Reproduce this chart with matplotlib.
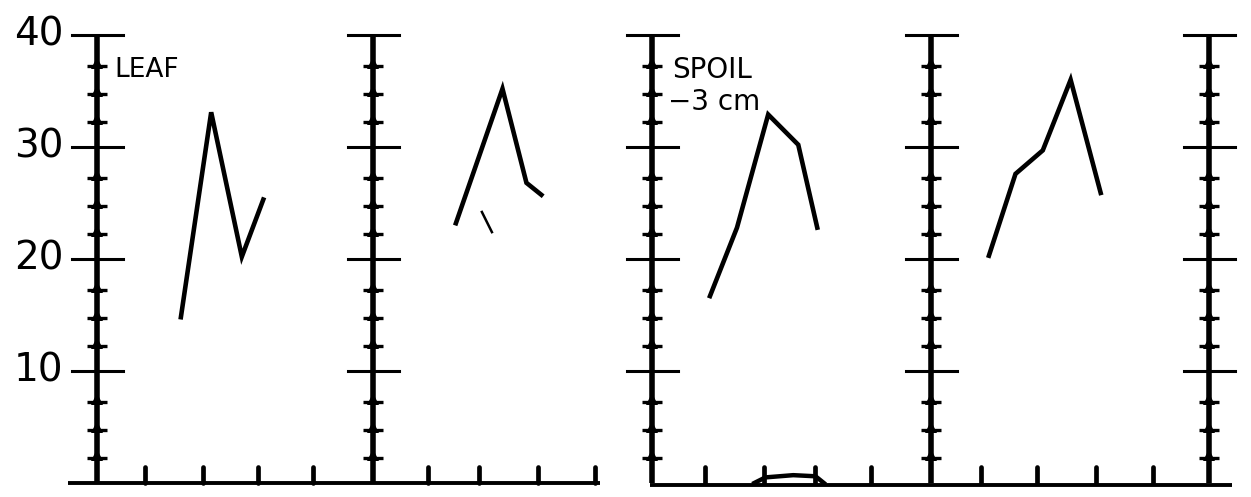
import matplotlib
matplotlib.use('Agg')
import numpy as np
import matplotlib.pyplot as plt

# values (x in tick units, y in axis units)
leaf_a_x = [1.5, 2.05, 2.6, 3.0]
leaf_a_y = [14.6, 33.1, 20.2, 25.5]
leaf_b_x = [6.43, 7.28, 7.71, 8.01]
leaf_b_y = [23.0, 35.2, 26.8, 25.6]
spoil_a_x = [10.99, 11.49, 12.05, 12.59, 12.94]
spoil_a_y = [16.5, 22.8, 32.9, 30.2, 22.6]
spoil_b_x = [16.0, 16.49, 16.98, 17.48, 18.03]
spoil_b_y = [20.1, 27.6, 29.7, 36.0, 25.7]
hump_x = [11.8, 12.0, 12.5, 12.9, 13.05]
hump_y = [0.0, 0.5, 0.7, 0.6, 0.0]
stray_x = [6.91, 7.09]
stray_y = [24.2, 22.4]

y_major = [10, 20, 30, 40]
y_labels = ['10', '20', '30', '40']
y_minor = [v for v in np.arange(2.5, 40, 2.5) if v % 10]
axis_x = [0, 4.955, 9.96, 14.97, 19.96]
bottom_ticks = [0.86, 1.9, 2.89, 3.88, 5.94, 6.86, 7.92, 8.94,
                10.92, 11.98, 12.89, 13.89, 15.87, 16.87, 17.94, 18.96]

fig = plt.figure(figsize=(12.51, 4.97), dpi=100)
ax = fig.add_axes([0, 0, 1, 1])
ax.set_xlim(-97 / 55.7, (1251 - 97) / 55.7)
ax.set_ylim(-14 / 11.2, 483 / 11.2)
ax.axis('off')

k = 'black'
# baselines of the two panels
ax.plot([-0.52, 9.03], [0, 0], color=k, lw=2.8, solid_capstyle='butt')
ax.plot([9.93, 20.38], [-0.15, -0.15], color=k, lw=2.8, solid_capstyle='butt')

for xa in axis_x:
    ax.plot([xa, xa], [0, 40], color=k, lw=4.0, solid_capstyle='butt')
    for yv in y_major:
        ax.plot([xa - 0.45, xa + 0.47], [yv, yv], color=k, lw=2.2)
    ax.plot([xa] * len(y_minor), y_minor, ls='none', marker='^', ms=9,
            color=k, markeredgewidth=0)
    ax.plot([xa] * len(y_minor), [v - 0.25 for v in y_minor], ls='none',
            marker='_', ms=14, mew=2.4, color=k)

for xt in bottom_ticks:
    ax.plot([xt, xt], [0, 1.45], color=k, lw=3.4, solid_capstyle='round')

for yv, lab in zip(y_major, y_labels):
    ax.text(-0.6, yv, lab, ha='right', va='center', fontsize=28, color=k)

ax.text(0.32, 36.25, 'LEAF', fontsize=19, color=k, va='baseline')
ax.text(10.32, 36.16, 'SPOIL', fontsize=20, color=k, va='baseline')
ax.text(10.25, 33.3, '\u22123 cm', fontsize=20, color=k, va='baseline')

for xs, ys in [(leaf_a_x, leaf_a_y), (leaf_b_x, leaf_b_y),
               (spoil_a_x, spoil_a_y), (spoil_b_x, spoil_b_y)]:
    ax.plot(xs, ys, color=k, lw=3.3, solid_joinstyle='miter',
            solid_capstyle='butt')
ax.plot(hump_x, hump_y, color=k, lw=3.2)
ax.plot(stray_x, stray_y, color=k, lw=1.8)

fig.savefig('out.png', dpi=100, facecolor='white')
